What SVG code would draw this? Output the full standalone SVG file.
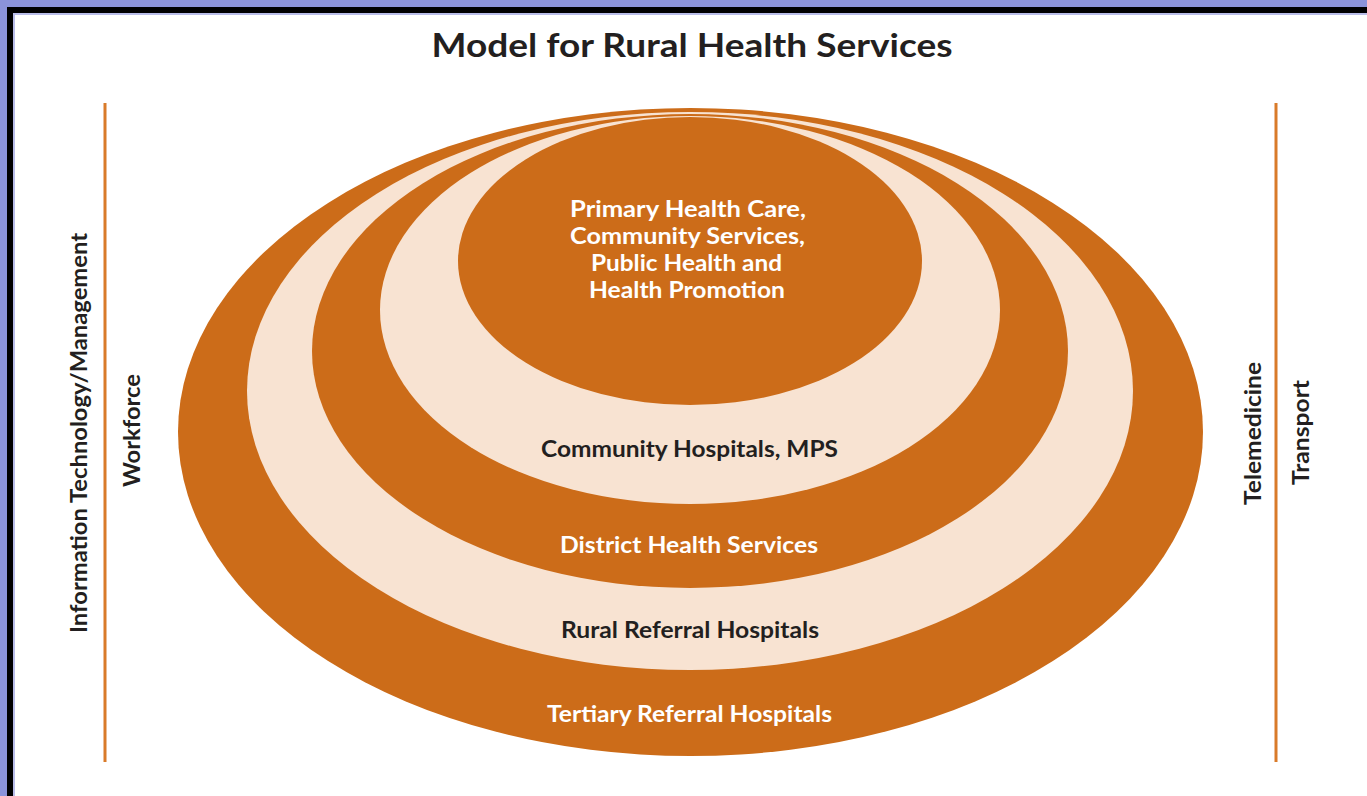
<svg xmlns="http://www.w3.org/2000/svg" width="1367" height="796" viewBox="0 0 1367 796">
<style>
.t{font-family:Lato,"Open Sans","Liberation Sans",sans-serif;font-weight:bold;text-anchor:middle}
.w{fill:#ffffff;font-size:22px}
.d{fill:#231f20;font-size:22px}
.o{fill:#cc6c19}
.c{fill:#f8e3d2}
.v{stroke:#d97b2a;stroke-width:3}
</style>
<rect x="0" y="0" width="1367" height="796" fill="#ffffff"/>
<rect x="0" y="0" width="1367" height="7" fill="#8b93da"/>
<rect x="0" y="0" width="7" height="796" fill="#8b93da"/>
<rect x="7" y="7" width="1360" height="6" fill="#000000"/>
<rect x="7" y="7" width="6" height="789" fill="#000000"/>
<rect x="13" y="13" width="1354" height="2" fill="#b9bde8"/>
<rect x="13" y="13" width="2" height="783" fill="#b9bde8"/>
<g id="title"><text class="t" x="692" y="57" textLength="521" lengthAdjust="spacingAndGlyphs" style="font-size:33px;fill:#231f20">Model for Rural Health Services</text></g>
<g id="tertiary"><ellipse class="o" cx="690.5" cy="432" rx="512.5" ry="324"/><text class="t w" x="689.5" y="722" textLength="285" lengthAdjust="spacingAndGlyphs">Tertiary Referral Hospitals</text></g>
<g id="rural"><ellipse class="c" cx="690" cy="391" rx="443" ry="279"/><text class="t d" x="690" y="638" textLength="258" lengthAdjust="spacingAndGlyphs">Rural Referral Hospitals</text></g>
<g id="district"><ellipse class="o" cx="690" cy="351" rx="378" ry="237"/><text class="t w" x="689" y="553" textLength="258" lengthAdjust="spacingAndGlyphs">District Health Services</text></g>
<g id="community"><ellipse class="c" cx="690" cy="310" rx="310" ry="194"/><text class="t d" x="689.5" y="457" textLength="297" lengthAdjust="spacingAndGlyphs">Community Hospitals, MPS</text></g>
<g id="primary"><ellipse class="o" cx="690" cy="261" rx="232" ry="144"/>
<text class="t w" x="688" y="217" textLength="236" lengthAdjust="spacingAndGlyphs">Primary Health Care,</text>
<text class="t w" x="687.5" y="244" textLength="235" lengthAdjust="spacingAndGlyphs">Community Services,</text>
<text class="t w" x="686.5" y="271" textLength="191" lengthAdjust="spacingAndGlyphs">Public Health and</text>
<text class="t w" x="687" y="298" textLength="196" lengthAdjust="spacingAndGlyphs">Health Promotion</text></g>
<g id="left-bar"><line class="v" x1="105" y1="103" x2="105" y2="762"/>
<text class="t d" transform="translate(87,433) rotate(-90)" textLength="400" lengthAdjust="spacingAndGlyphs">Information Technology/Management</text>
<text class="t d" transform="translate(140,430.5) rotate(-90)" textLength="113" lengthAdjust="spacingAndGlyphs">Workforce</text></g>
<g id="right-bar"><line class="v" x1="1276" y1="103" x2="1276" y2="762"/>
<text class="t d" transform="translate(1261,433.5) rotate(-90)" textLength="143" lengthAdjust="spacingAndGlyphs">Telemedicine</text>
<text class="t d" transform="translate(1309,432.5) rotate(-90)" textLength="105" lengthAdjust="spacingAndGlyphs">Transport</text></g>
</svg>
